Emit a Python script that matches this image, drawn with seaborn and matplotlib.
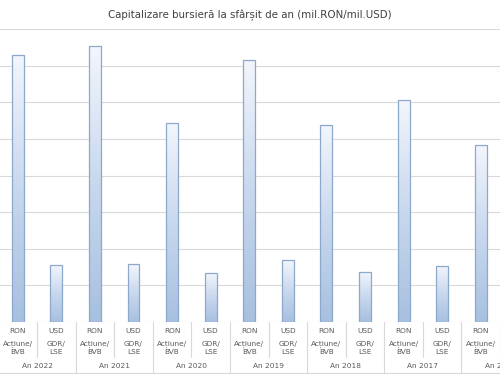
import numpy as np
import pandas as pd
import matplotlib
matplotlib.use("Agg")
import matplotlib.pyplot as plt
import matplotlib.transforms as mtransforms
from matplotlib.colors import LinearSegmentedColormap
import seaborn as sns

# values, in gridline units (axis labels are cropped out)
years = ["An 2022", "An 2021", "An 2020", "An 2019", "An 2018", "An 2017", "An 2016"]
ron_values = [7.30, 7.54, 5.44, 7.16, 5.38, 6.07, 4.84]
usd_values = [1.56, 1.58, 1.34, 1.69, 1.37, 1.53, 1.50]
currency_labels = ["RON", "USD"]
market_labels = ["Acțiune/\nBVB", "GDR/\nLSE"]

rows = []
for y, r, u in zip(years, ron_values, usd_values):
    rows.append({"slot": f"{y} RON", "value": r})
    rows.append({"slot": f"{y} USD", "value": u})
df = pd.DataFrame(rows)

sns.set_style("white")
plt.rcParams["font.family"] = ["DejaVu Sans"]

W, H = 500, 375
fig = plt.figure(figsize=(5, 3.75), dpi=100)
base_px, top_px = 322, 29
ax = fig.add_axes([0, (H - base_px) / H, 1, (base_px - top_px) / H])

sns.barplot(data=df, x="slot", y="value", ax=ax, width=0.31,
            color="#c9d8ee", edgecolor="#8ea8cc", linewidth=0.9, zorder=3)

# gradient fill inside each bar
cmap = LinearSegmentedColormap.from_list("bar", ["#a7c0e0", "#c8d8ee", "#f3f6fc"])
grad = np.linspace(0, 1, 256).reshape(-1, 1)
for p in ax.patches:
    x0, y0 = p.get_x(), p.get_y()
    w, h = p.get_width(), p.get_height()
    im = ax.imshow(grad, extent=(x0, x0 + w, y0, y0 + h), origin="lower",
                   cmap=cmap, aspect="auto", zorder=2.9)
    im.set_clip_path(p)
    p.set_facecolor("none")

ax.set_ylim(0, 8)
ax.set_xlim(-0.46, 12.5)
for g in range(0, 9):
    ax.axhline(g, color="#d9d9d9", lw=0.8, zorder=1)

ax.set_xticks([])
ax.set_yticks([])
ax.set_xlabel("")
ax.set_ylabel("")
for s in ax.spines.values():
    s.set_visible(False)

trans = mtransforms.blended_transform_factory(ax.transData, fig.transFigure)
def fy(px):
    return 1 - px / H

txt = dict(color="#595959", fontsize=5.3, ha="center", transform=trans)
n = len(years)
for i in range(n):
    for j in range(2):
        k = 2 * i + j
        ax.text(k, fy(331), currency_labels[j], va="center", **txt)
        ax.text(k, fy(348), market_labels[j], va="center", linespacing=1.35, **txt)
    ax.text(2 * i + 0.5, fy(366), years[i], va="center", **txt)
    # separators under the axis
    ax.plot([2 * i + 0.5] * 2, [fy(base_px), fy(357)], color="#d9d9d9",
            lw=0.8, transform=trans, clip_on=False)
    ax.plot([2 * i + 1.5] * 2, [fy(base_px), fy(373)], color="#d9d9d9",
            lw=0.8, transform=trans, clip_on=False)

fig.add_artist(plt.Line2D([0, 1], [fy(372.5), fy(372.5)], color="#d9d9d9", lw=0.8))

fig.text(0.5, fy(15), "Capitalizare bursieră la sfârșit de an (mil.RON/mil.USD)",
         ha="center", va="center", fontsize=7.4, color="#404040")

fig.savefig("out.png", dpi=100, facecolor="white")
